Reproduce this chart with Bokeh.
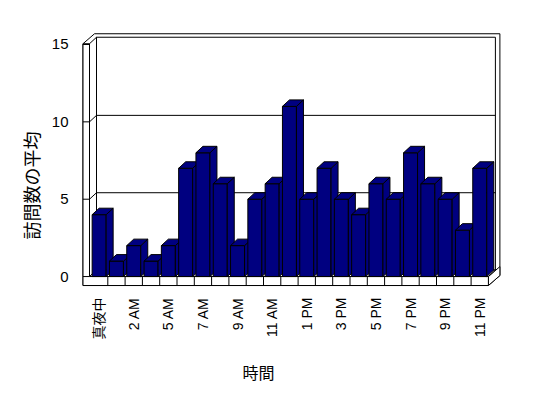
from math import pi
from bokeh.plotting import figure
from bokeh.models import Range1d, FixedTicker, Title
from bokeh.embed import file_html
from bokeh.resources import INLINE

# ---- data ----
categories = ["真夜中", "1 AM", "2 AM", "3 AM", "5 AM", "6 AM", "7 AM", "8 AM",
              "9 AM", "10 AM", "11 AM", "正午", "1 PM", "2 PM", "3 PM", "4 PM",
              "5 PM", "6 PM", "7 PM", "8 PM", "9 PM", "10 PM", "11 PM"]
values = [4, 1, 2, 1, 2, 7, 8, 6, 2, 5, 6, 11, 5, 7, 5, 4, 6, 5, 8, 6, 5, 3, 7]
y_ticks = [0, 5, 10, 15]
x_tick_idx = list(range(0, len(categories), 2))
x_title = "時間"
y_title = "訪問数の平均"

# ---- layout ----
W, H = 540, 398
BL, BR, BT, BB = 81, 30, 30, 106
FW = W - BL - BR
FH = H - BT - BB
PX_X = 17.3    # pixels per category
PX_Y = 15.53   # pixels per value unit
x_start = -(98.65 - 81) / PX_X
x_end = x_start + FW / PX_X
y_start = -15 / PX_Y
y_end = y_start + FH / PX_Y

p = figure(width=W, height=H, output_backend="svg", toolbar_location=None,
           x_range=Range1d(x_start, x_end), y_range=Range1d(y_start, y_end),
           min_border_left=BL, min_border_right=BR, min_border_top=BT,
           min_border_bottom=BB)
p.outline_line_color = None
p.xgrid.visible = False
p.ygrid.visible = False
p.background_fill_color = "white"
p.border_fill_color = "white"

# depth offsets in data units
ddx, ddy = 7 / PX_X, 6.5 / PX_Y
ox, oy = 11.5 / PX_X, 10 / PX_Y
n = len(values)
x_in = -0.5 - 1 / PX_X
x_out = x_in - 6.5 / PX_X
xr = n - 0.5
top = max(y_ticks) + 0.05
fb = -9 / PX_Y

wall = dict(fill_color="white", line_color="black", line_width=1, line_join="miter")
# silhouette of walls/floor slab
p.patch([x_out, x_out, x_out + ox, xr + ox, xr + ox, xr],
        [fb, top, top + oy, top + oy, fb + oy, fb], **wall)
# floor right side
p.patch([xr, xr + ox, xr + ox, xr], [fb, fb + oy, oy, 0], **wall)
# back wall inner face
p.patch([x_in + ddx, xr + ddx, xr + ddx, x_in + ddx],
        [ddy, ddy, top + ddy, top + ddy], **wall)
# left wall inner face
p.patch([x_in, x_in + ddx, x_in + ddx, x_in], [0, ddy, top + ddy, top], **wall)
# floor top face
p.patch([x_in, xr, xr + ddx, x_in + ddx], [0, 0, ddy, ddy], **wall)
# front L face (left wall front + floor front)
p.patch([x_out, x_in, x_in, xr, xr, x_out], [top, top, 0, 0, fb, fb], **wall)

# gridlines on walls
gv = [v for v in y_ticks if 0 < v < max(y_ticks)]
p.segment(x0=[x_in] * len(gv), y0=gv, x1=[x_in + ddx] * len(gv),
          y1=[v + ddy for v in gv], line_color="black", line_width=1)
p.segment(x0=[x_in + ddx] * len(gv), y0=[v + ddy for v in gv],
          x1=[xr + ddx] * len(gv), y1=[v + ddy for v in gv],
          line_color="black", line_width=1)
p.segment(x0=[x_out] * len(y_ticks), y0=y_ticks, x1=[x_in] * len(y_ticks),
          y1=y_ticks, line_color="black", line_width=1)
# floor category dividers
div = [k - 0.5 for k in range(1, n)]
p.segment(x0=div, y0=[0] * len(div), x1=div, y1=[fb] * len(div),
          line_color="black", line_width=1)

# bars (front, side, top per bar, in order)
hw = 7 / PX_X
xs, ys = [], []
for i, v in enumerate(values):
    l, r = i - hw, i + hw
    xs += [[l, r, r, l], [r, r + ddx, r + ddx, r], [l, r, r + ddx, l + ddx]]
    ys += [[0, 0, v, v], [0, ddy, v + ddy, v], [v, v, v + ddy, v + ddy]]
p.patches(xs, ys, fill_color="#000080", line_color="black", line_width=1,
          line_join="miter")

# axes
lbl_font = "Liberation Sans, Noto Sans CJK JP"
p.yaxis.ticker = FixedTicker(ticks=y_ticks)
p.yaxis.axis_line_color = None
p.yaxis.major_tick_line_color = None
p.yaxis.minor_tick_line_color = None
p.yaxis.major_tick_in = 0
p.yaxis.major_tick_out = 0
p.yaxis.major_label_standoff = 13
p.yaxis.major_label_text_font = lbl_font
p.yaxis.major_label_text_font_size = "15px"
p.yaxis.major_label_text_color = "black"

p.xaxis.ticker = FixedTicker(ticks=x_tick_idx)
p.xaxis.major_label_overrides = {i: categories[i] for i in x_tick_idx}
p.xaxis.major_label_orientation = pi / 2
p.xaxis.axis_line_color = None
p.xaxis.major_tick_line_color = None
p.xaxis.minor_tick_line_color = None
p.xaxis.major_tick_in = 0
p.xaxis.major_tick_out = 0
p.xaxis.major_label_standoff = 6
p.xaxis.major_label_text_font = lbl_font
p.xaxis.major_label_text_font_size = "14px"
p.xaxis.major_label_text_color = "black"

# axis titles (as side titles, offset along the frame)
ty = Title(text=y_title, align="left", offset=52, text_font="Noto Sans CJK JP",
           text_font_size="18px", text_font_style="normal", text_color="black",
           standoff=9)
p.add_layout(ty, "left")
tx = Title(text=x_title, align="left", offset=161, text_font="Noto Sans CJK JP",
           text_font_size="16px", text_font_style="normal", text_color="black",
           standoff=30)
p.add_layout(tx, "below")

open("out.html", "w").write(file_html(p, INLINE))
